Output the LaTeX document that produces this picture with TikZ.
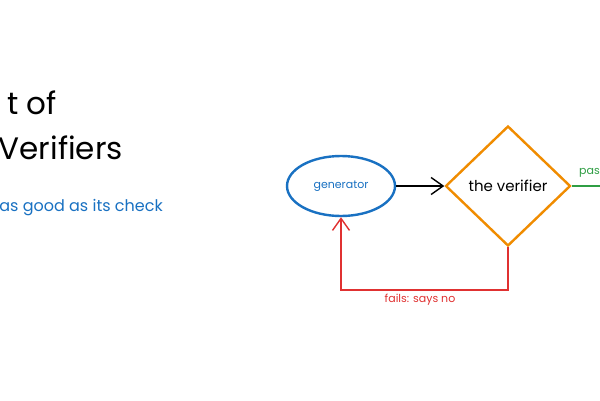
\documentclass[tikz,border=0pt]{standalone}
\usepackage{fontspec}
\setmainfont{Poppins}
\usetikzlibrary{arrows.meta,shapes.geometric}
\definecolor{exblue}{HTML}{1971C2}
\definecolor{exorange}{HTML}{F08C00}
\definecolor{exred}{HTML}{E03131}
\definecolor{exgreen}{HTML}{2F9E44}
\tikzset{
  titletext/.style={font=\fontsize{31}{33}\selectfont, text=black, anchor=east, inner sep=0pt},
  subtext/.style={font=\fontsize{16}{18}\selectfont, text=exblue, anchor=east, inner sep=0pt},
  genbox/.style={ellipse, draw=exblue, line width=2.4pt, minimum width=108pt, minimum height=60pt, text=exblue, font=\fontsize{11}{13}\selectfont},
  verbox/.style={diamond, draw=exorange, line width=2.4pt, minimum width=125pt, minimum height=120pt, inner sep=0pt, font=\fontsize{15}{17}\selectfont, aspect=1.04},
  barb/.style={-{Straight Barb[length=12pt,width=17pt]}, line width=1.4pt},
  lbl/.style={font=\fontsize{11}{13}\selectfont, inner sep=1pt}
}
\begin{document}
\begin{tikzpicture}[x=1pt,y=-1pt]
\useasboundingbox (0,0) rectangle (600,400);
\clip (0,0) rectangle (600,400);
\fill[white] (0,0) rectangle (600,400);
\node[titletext] (t1) at (57,103) {t of};
\node[titletext] (t2) at (123,148) {Verifiers};
\node[subtext] (sub) at (163,208) {as good as its check};
\node[genbox] (gen) at (341,186) {generator};
\node[verbox] (ver) at (508,186) {the verifier};
\draw[barb, black] (gen.east) -- (ver.west);
\coordinate (out) at (625,186);
\draw[barb, exgreen] (ver.east) -- (out);
\node[lbl, text=exgreen, anchor=south west] (pass) at (578,179) {pass};
\coordinate (c1) at (508,290);
\coordinate (c2) at (341,290);
\draw[barb, exred] (ver.south) -- (c1) -- (c2) -- (gen.south);
\node[lbl, text=exred] (fails) at (420,300) {fails: says no};
\end{tikzpicture}
\end{document}
